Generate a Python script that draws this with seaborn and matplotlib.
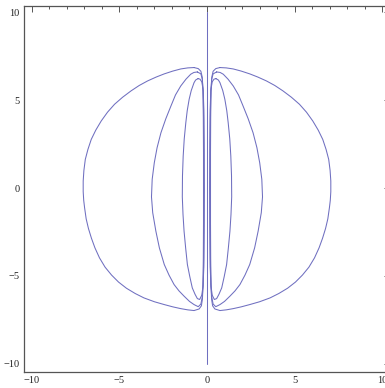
import matplotlib
matplotlib.use("Agg")
import matplotlib.pyplot as plt
from matplotlib.ticker import MultipleLocator, FixedLocator, FixedFormatter
import numpy as np
import pandas as pd
import seaborn as sns

# Right-hand closed contours (left-hand ones are their mirror images)
outer_x = [0.74, 1.1, 1.5, 1.95, 2.44, 2.9, 3.39, 3.87, 4.34, 4.82, 5.28, 5.68, 6.04, 6.35,
           6.61, 6.8, 6.95, 7.03, 7.07, 7.07, 7.04, 6.99, 6.9, 6.77, 6.6, 6.4, 6.14, 5.82,
           5.45, 5.05, 4.6, 4.1, 3.6, 3.0, 2.44, 1.95, 1.5, 1.1, 0.74,
           0.45, 0.32, 0.26, 0.23, 0.21, 0.2, 0.2, 0.2, 0.21, 0.23, 0.27, 0.35, 0.5, 0.74]
outer_y = [6.86, 6.84, 6.78, 6.66, 6.5, 6.32, 6.1, 5.84, 5.53, 5.17, 4.77, 4.32, 3.82, 3.3,
           2.77, 2.2, 1.63, 1.0, 0.4, -0.2, -0.7, -1.12, -1.75, -2.3, -2.85, -3.4, -3.97, -4.5,
           -4.95, -5.35, -5.7, -6.0, -6.25, -6.47, -6.63, -6.76, -6.86, -6.93, -6.97,
           -6.88, -6.7, -6.3, -5.5, -4.0, -2.0, 0.0, 2.0, 4.0, 5.5, 6.3, 6.65, 6.8, 6.86]

middle_x = [0.55, 0.75, 0.93, 1.2, 1.5, 1.8, 2.06, 2.35, 2.63, 2.85, 3.01, 3.13, 3.17, 3.1,
            2.92, 2.72, 2.44, 2.17, 1.88, 1.6, 1.31, 1.0, 0.74, 0.5, 0.35, 0.27, 0.22, 0.19,
            0.18, 0.18, 0.18, 0.19, 0.22, 0.27, 0.35, 0.55]
middle_y = [6.61, 6.58, 6.48, 6.2, 5.81, 5.3, 4.67, 3.95, 3.15, 2.3, 1.44, 0.5, -0.5, -1.4,
            -2.45, -3.4, -4.35, -4.95, -5.49, -5.85, -6.15, -6.45, -6.63, -6.75, -6.6, -6.2, -5.5, -4.0,
            -2.0, 0.0, 2.0, 4.0, 5.5, 6.2, 6.5, 6.61]

inner_x = [0.51, 0.65, 0.74, 0.9, 1.02, 1.13, 1.21, 1.3, 1.36, 1.4, 1.41, 1.37, 1.31, 1.22,
           1.12, 0.98, 0.84, 0.68, 0.55, 0.42, 0.3, 0.23, 0.18, 0.16, 0.15, 0.16, 0.18, 0.22,
           0.3, 0.4, 0.51]
inner_y = [6.23, 6.15, 6.0, 5.55, 5.05, 4.4, 3.72, 2.8, 1.82, 0.7, -0.5, -1.5, -2.45, -3.4,
           -4.35, -5.05, -5.68, -6.05, -6.29, -6.34, -6.1, -5.6, -4.5, -2.5, 0.0, 2.5, 4.5, 5.6,
           6.05, 6.2, 6.23]

axis_line_x = [0.0, 0.0]
axis_line_y = [-10.0, 10.0]

tick_values = [-10, -5, 0, 5, 10]
tick_labels = ["\u221210", "\u22125", "0", "5", "10"]

frames = []
for name, xs, ys in [("outer", outer_x, outer_y),
                     ("middle", middle_x, middle_y),
                     ("inner", inner_x, inner_y)]:
    frames.append(pd.DataFrame({"x": xs, "y": ys, "curve": name + "_r"}))
    frames.append(pd.DataFrame({"x": [-v for v in xs], "y": ys, "curve": name + "_l"}))
frames.append(pd.DataFrame({"x": axis_line_x, "y": axis_line_y, "curve": "zero"}))
df = pd.concat(frames, ignore_index=True)

sns.set_style("white")
plt.rcParams["font.family"] = ["Liberation Serif", "DejaVu Serif"]

W, H = 385, 388
fig = plt.figure(figsize=(W / 100, H / 100), dpi=100)
ax = fig.add_axes([24 / W, (H - 371.7) / H, 366 / W, 366 / H])

line_color = "#6f6fc0"
sns.lineplot(data=df, x="x", y="y", units="curve", estimator=None, sort=False,
             color=line_color, linewidth=0.75, legend=False, ax=ax,
             solid_joinstyle="round")

ax.set_xlim(-10.45, 10.45)
ax.set_ylim(-10.45, 10.38)
ax.set_xlabel("")
ax.set_ylabel("")

for axis in (ax.xaxis, ax.yaxis):
    axis.set_major_locator(FixedLocator(tick_values))
    axis.set_major_formatter(FixedFormatter(tick_labels))
    axis.set_minor_locator(MultipleLocator(1))

frame_color = "#555555"
for sp in ax.spines.values():
    sp.set_color(frame_color)
    sp.set_linewidth(0.9)

ax.tick_params(which="both", direction="in", top=True, right=True,
               color=frame_color, width=0.7, labelsize=7.5, labelcolor="#222222")
ax.tick_params(which="major", length=4, pad=3)
ax.tick_params(which="minor", length=2.2)

fig.savefig("out.png", dpi=100)
